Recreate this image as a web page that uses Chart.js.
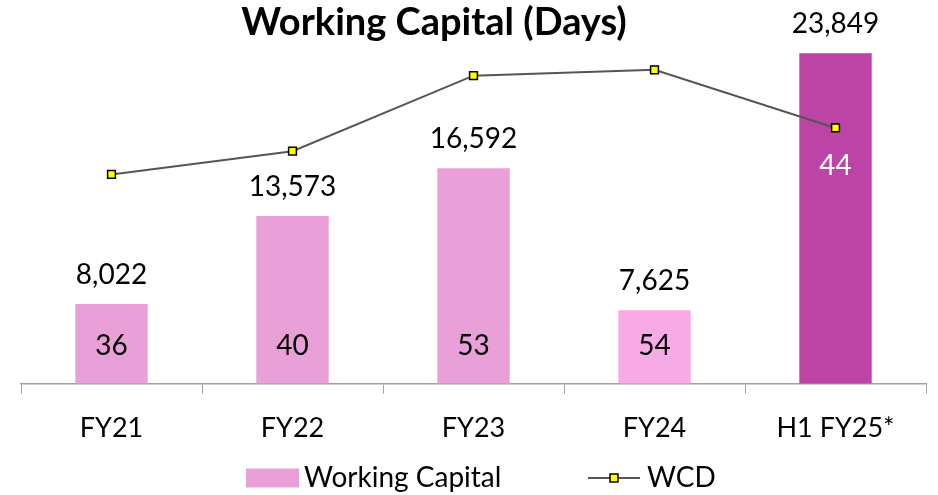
<!DOCTYPE html>
<html>
<head>
<meta charset="utf-8">
<script src="https://cdn.jsdelivr.net/npm/chart.js@4.4.1/dist/chart.umd.min.js"></script>
<style>
    html, body { margin: 0; padding: 0; background: #ffffff; }
    #wrap { width: 938px; height: 495px; }
</style>
</head>
<body>
<div id="wrap"><canvas id="grafico"></canvas></div>
<script>

const categorias = ["FY21", "FY22", "FY23", "FY24", "H1 FY25*"];

const capitalGiro = [8022, 13573, 16592, 7625, 23849];

const diasWcd = [36, 40, 53, 54, 44];

const coresBarras = ["#E9A0D8", "#E9A0D8", "#E9A0D8", "#F8AAE6", "#BB44A6"];

const fonte = "Lato, 'Open Sans', sans-serif";

const rotulosPlugin = {

    id: "rotulos",

    afterDatasetsDraw(chart) {

        const ctx = chart.ctx;
        const area = chart.chartArea;

        ctx.save();

        // titulo
        ctx.fillStyle = "#000000";
        ctx.font = "bold 38px " + fonte;
        ctx.textAlign = "center";
        ctx.textBaseline = "middle";
        ctx.fillText("Working Capital (Days)", 434, 23);

        // valores das barras
        const barras = chart.getDatasetMeta(0).data;

        ctx.font = "28px " + fonte;
        ctx.textBaseline = "alphabetic";

        barras.forEach((el, i) => {

            ctx.fillStyle = "#000000";
            ctx.fillText(
                capitalGiro[i].toLocaleString("en-US"),
                el.x,
                el.y - 20
            );
        });

        // valores WCD
        const pontos = chart.getDatasetMeta(1).data;

        ctx.textBaseline = "middle";

        pontos.forEach((p, i) => {

            const x = barras[i].x;

            if (i === pontos.length - 1) {

                ctx.fillStyle = "#FFFFFF";
                ctx.fillText(String(diasWcd[i]), x, p.y + 38);

            } else {

                ctx.fillStyle = "#000000";
                ctx.fillText(String(diasWcd[i]), x, area.bottom - 38);
            }
        });

        // legenda
        const yLeg = 478;

        ctx.fillStyle = "#E9A0D8";
        ctx.fillRect(246, yLeg - 9.5, 53, 19);

        ctx.fillStyle = "#000000";
        ctx.font = "28px " + fonte;
        ctx.textAlign = "left";
        ctx.fillText("Working Capital", 304, yLeg);

        ctx.strokeStyle = "#555555";
        ctx.lineWidth = 2;
        ctx.beginPath();
        ctx.moveTo(588, yLeg);
        ctx.lineTo(640, yLeg);
        ctx.stroke();

        ctx.fillStyle = "#FFFF00";
        ctx.strokeStyle = "#000000";
        ctx.lineWidth = 1.5;
        ctx.fillRect(610, yLeg - 4, 8, 8);
        ctx.strokeRect(610, yLeg - 4, 8, 8);

        ctx.fillStyle = "#000000";
        ctx.fillText("WCD", 647, yLeg);

        ctx.restore();
    }
};

new Chart(document.getElementById("grafico"), {

    type: "bar",

    data: {

        labels: categorias,

        datasets: [
            {
                label: "Working Capital",
                data: capitalGiro,
                backgroundColor: coresBarras,
                borderWidth: 0,
                barPercentage: 0.4,
                categoryPercentage: 1,
                yAxisID: "y",
                order: 2
            },
            {
                label: "WCD",
                type: "line",
                data: diasWcd,
                borderColor: "#555555",
                borderWidth: 2,
                pointStyle: "rect",
                pointRadius: 5.5,
                pointBorderWidth: 1.5,
                pointBorderColor: "#000000",
                pointBackgroundColor: "#FFFF00",
                tension: 0,
                fill: false,
                yAxisID: "y2",
                order: 1
            }
        ]
    },

    options: {

        responsive: true,
        maintainAspectRatio: false,
        animation: false,

        layout: {
            padding: { top: 35, left: 21, right: 12, bottom: 33 }
        },

        plugins: {

            legend: { display: false },

            tooltip: { enabled: false }
        },

        scales: {

            x: {

                offset: true,

                grid: {
                    offset: true,
                    drawOnChartArea: false,
                    drawTicks: true,
                    tickLength: 10,
                    color: "#A0A0A0"
                },

                border: { color: "#A0A0A0", width: 1.5 },

                ticks: {
                    color: "#000000",
                    padding: 18,
                    font: { family: fonte, size: 27 }
                }
            },

            y: {
                display: false,
                min: 3000,
                max: 25000
            },

            y2: {
                display: false,
                position: "right",
                min: 0,
                max: 60
            }
        }
    },

    plugins: [rotulosPlugin]
});
</script>
</body>
</html>
